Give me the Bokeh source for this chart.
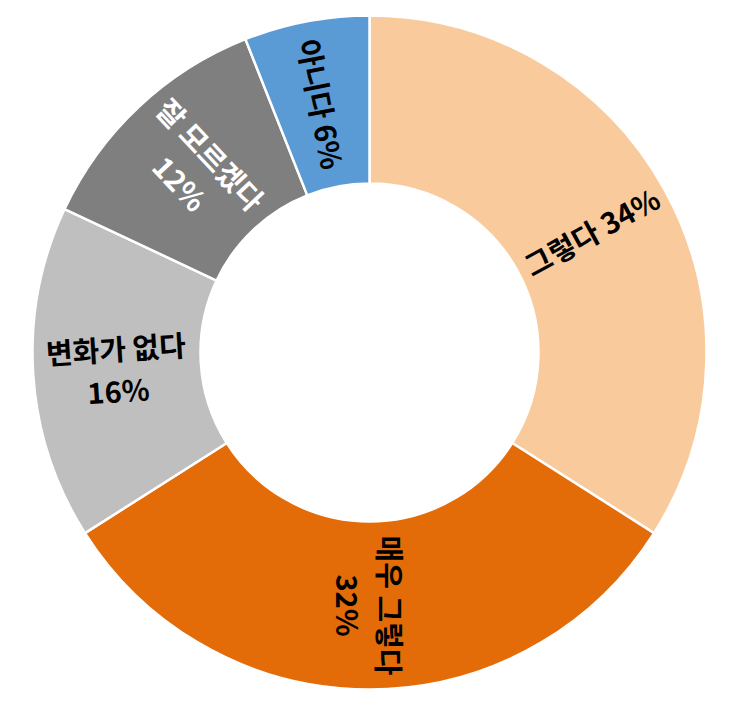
from math import pi, cos, sin

from bokeh.plotting import figure
from bokeh.models import ColumnDataSource, Range1d
from bokeh.core.properties import value
from bokeh.embed import file_html
from bokeh.resources import INLINE

# Chart data
categories = ['그렇다', '매우 그렇다', '변화가 없다', '잘 모르겠다', '아니다']
shares = [34, 32, 16, 12, 6]
label_texts = ['그렇다 34%', '매우 그렇다\n32%', '변화가 없다\n16%', '잘 모르겠다\n12%', '아니다 6%']
colors = ['#F9CB9C', '#E36C09', '#BFBFBF', '#7F7F7F', '#5B9BD5']
label_colors = ['black', 'black', 'black', 'white', 'black']

W, H = 733, 695
CX, CY = 369, 343
R_OUT, R_IN = 337, 169

# Slices run clockwise from 12 o'clock
total = float(sum(shares))
starts, ends, tx, ty, tang = [], [], [], [], []
cum = 0.0
for s in shares:
    a_hi = pi / 2 - cum / total * 2 * pi
    cum += s
    a_lo = pi / 2 - cum / total * 2 * pi
    starts.append(a_lo)
    ends.append(a_hi)
    mid = (a_lo + a_hi) / 2
    r = (R_OUT + R_IN) / 2
    tx.append(CX + r * cos(mid))
    ty.append(CY + r * sin(mid))
    # keep the label readable: flip the ones on the left side
    ang = mid
    while ang > pi / 2 + 1e-9:
        ang -= pi
    while ang < -pi / 2 - 1e-9:
        ang += pi
    tang.append(ang)

wedges = ColumnDataSource(dict(cat=categories, start=starts, end=ends, color=colors))
labels = ColumnDataSource(dict(x=tx, y=ty, text=label_texts, angle=tang, color=label_colors))

p = figure(width=W, height=H, output_backend="svg", toolbar_location=None,
           x_range=Range1d(0, W), y_range=Range1d(0, H), min_border=0)
p.axis.visible = False
p.grid.visible = False
p.outline_line_color = None

p.annular_wedge(x=CX, y=CY, inner_radius=R_IN, outer_radius=R_OUT,
                start_angle='start', end_angle='end', fill_color='color',
                line_color='white', line_width=2.5, source=wedges)

p.text(x='x', y='y', text='text', angle='angle', text_color='color',
       text_font=value("Noto Sans CJK KR"), text_font_style='bold',
       text_font_size='29px', text_align='center', text_baseline='middle',
       text_line_height=1.0, source=labels)

open("out.html", "w").write(file_html(p, INLINE))
